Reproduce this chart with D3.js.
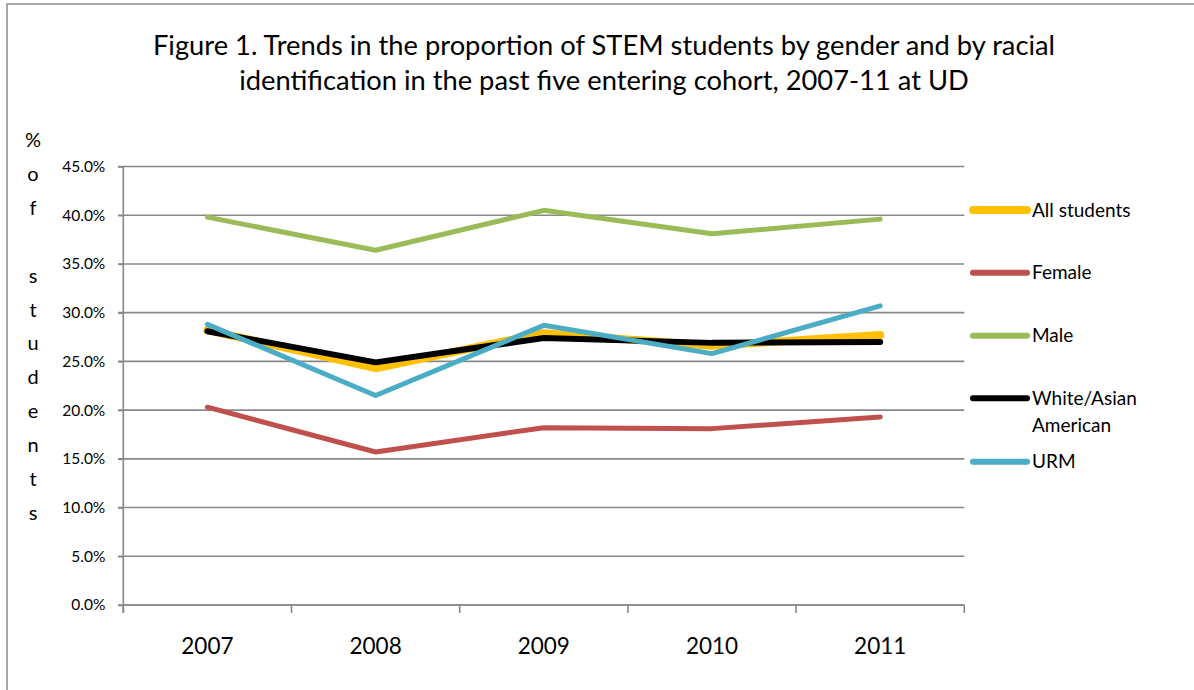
<!DOCTYPE html>
<html><head><meta charset="utf-8">
<script src="https://cdn.jsdelivr.net/npm/d3@7"></script>
<style>body{margin:0;background:#fff}svg{display:block}text{font-family:Lato,"Open Sans",sans-serif;fill:#000}</style>
</head><body>
<svg id="c" width="1194" height="690"></svg>
<script>
const years = ["2007","2008","2009","2010","2011"];
const seriesNames = ["All students","Female","Male","White/Asian American","URM"];
const allStudents = [28.2, 24.3, 27.9, 26.6, 27.7];
const female = [20.3, 15.7, 18.2, 18.1, 19.3];
const male = [39.8, 36.4, 40.5, 38.1, 39.6];
const whiteAsian = [28.1, 24.9, 27.4, 26.9, 27.0];
const urm = [28.8, 21.5, 28.7, 25.8, 30.7];
const yTicks = [0,5,10,15,20,25,30,35,40,45];
const colors = ["#FFC000","#C0504D","#9BBB59","#000000","#4BACC6"];
const widths = [8,5,5,6,5];
const title = ["Figure 1. Trends in the proportion of STEM students by gender and by racial",
               "identification in the past five entering cohort, 2007-11 at UD"];
const yLabelChars = ["%","o","f"," ","s","t","u","d","e","n","t","s"];

const data = [allStudents, female, male, whiteAsian, urm];
const svg = d3.select("#c");

// frame (right and bottom edges lie outside the picture)
svg.append("rect").attr("x",7).attr("y",4).attr("width",1200).attr("height",700)
  .attr("fill","none").attr("stroke","#8c8c8c").attr("stroke-width",1.5);

const x = d3.scaleBand().domain(years).range([123.3, 964.3]).padding(0);
const y = d3.scaleLinear().domain([0,45]).range([605, 166.5]);

// gridlines
svg.append("g").selectAll("line").data(yTicks).join("line")
  .attr("x1",118).attr("x2",964.3)
  .attr("y1",d=>y(d)).attr("y2",d=>y(d))
  .attr("stroke","#888").attr("stroke-width",1.6);

// y axis
const ya = svg.append("g").attr("transform","translate(123.3,0)")
  .call(d3.axisLeft(y).tickValues(yTicks).tickSize(5).tickPadding(13).tickFormat(d=>d3.format(".1f")(d)+"%"));
ya.select(".domain").attr("stroke","#888").attr("stroke-width",1.6).attr("d","M0,166.5V613");
ya.selectAll(".tick line").attr("stroke","#888").attr("stroke-width",1.6);
ya.selectAll("text").style("font-size","15.5px").style("font-family","Lato,sans-serif");

// x axis
const xa = svg.append("g").attr("transform","translate(0,605)")
  .call(d3.axisBottom(x).tickSize(0).tickPadding(33));
xa.select(".domain").attr("stroke","#888").attr("stroke-width",1.6).attr("d","M123.3,0H964.3");
xa.selectAll("text").style("font-size","22.5px").style("font-family","Lato,sans-serif");
xa.append("g").selectAll("line").data(years.concat(["end"])).join("line")
  .attr("x1",(d,i)=>i<years.length?x(d):x(years[years.length-1])+x.bandwidth())
  .attr("x2",(d,i)=>i<years.length?x(d):x(years[years.length-1])+x.bandwidth())
  .attr("y1",0).attr("y2",8).attr("stroke","#888").attr("stroke-width",1.6);

// lines
const line = d3.line().x((d,i)=>x(years[i])+x.bandwidth()/2).y(d=>y(d));
svg.append("g").selectAll("path").data(data).join("path")
  .attr("d",d=>line(d)).attr("fill","none")
  .attr("stroke",(d,i)=>colors[i]).attr("stroke-width",(d,i)=>widths[i])
  .attr("stroke-linecap","round").attr("stroke-linejoin","round");

// legend
const legY = [210, 272.7, 335.7, 398.3, 461.7];
const lg = svg.append("g");
seriesNames.forEach((n,i)=>{
  lg.append("line").attr("x1",973).attr("x2",1027).attr("y1",legY[i]).attr("y2",legY[i])
    .attr("stroke",colors[i]).attr("stroke-width",i===0?8:6).attr("stroke-linecap","round");
  const t = lg.append("text").attr("x",1032).attr("y",legY[i]+6.5).style("font-size","19px");
  if(n==="White/Asian American"){
    t.append("tspan").attr("x",1032).text("White/Asian");
    t.append("tspan").attr("x",1032).attr("dy",26.7).text("American");
  } else t.text(n);
});

// title
svg.append("g").selectAll("text").data(title).join("text")
  .attr("x",604).attr("y",(d,i)=>55+i*35).attr("text-anchor","middle")
  .style("font-size","27.3px").text(d=>d);

// y label stacked
svg.append("g").selectAll("text").data(yLabelChars).join("text")
  .attr("x",33).attr("y",(d,i)=>147+i*33.9).attr("text-anchor","middle")
  .style("font-size","20px").text(d=>d);
</script>
</body></html>
